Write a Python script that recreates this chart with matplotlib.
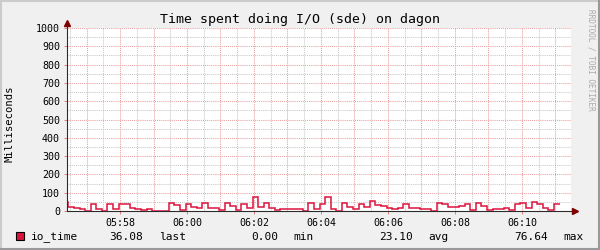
import numpy as np
import matplotlib.pyplot as plt
from matplotlib.patches import Rectangle

plt.rcParams['font.family'] = ['DejaVu Sans Mono']

# io_time in ms, one value per 10 s step (first one is a partial step)
io_time = [51, 22, 16, 9, 0, 38, 9, 0, 38, 11,
           38, 38, 15, 9, 4, 11, 0, 0, 0, 44,
           33, 5, 38, 22, 16, 44, 16, 16, 5, 44,
           27, 5, 38, 16, 76.64, 22, 44, 16, 5, 11,
           11, 11, 11, 0, 44, 11, 38, 75, 11, 0,
           44, 22, 11, 38, 22, 55, 33, 27, 16, 11,
           16, 38, 16, 16, 11, 11, 0, 44, 38, 22,
           22, 27, 38, 5, 44, 27, 5, 11, 11, 16,
           5, 38, 44, 16, 49, 38, 16, 5, 36.08]
step_seconds = 10
first_step = 27.5          # seconds after 05:56:00
view_start, view_end = 25, 928

tick_secs = [120, 240, 360, 480, 600, 720, 840]
tick_labels = ['05:58', '06:00', '06:02', '06:04', '06:06', '06:08', '06:10']
y_ticks = list(range(0, 1001, 100))

stats_values = ['36.08', '0.00', '23.10', '76.64']
stats_names = ['last', 'min', 'avg', 'max']

line_color = '#DC143C'

W, H = 600, 250
fig = plt.figure(figsize=(6, 2.5), dpi=100, facecolor='#F0F0F0')

# plot area in pixels
px0, px1, py0, py1 = 67, 571, 28, 211
ax = fig.add_axes([px0 / W, (H - py1) / H, (px1 - px0) / W, (py1 - py0) / H])
ax.set_facecolor('white')
ax.set_xlim(view_start, view_end)
ax.set_ylim(0, 1000)
for s in ax.spines.values():
    s.set_visible(False)

# grid: minor gray, major pink
dots = (0, (1, 1))
for t in np.arange(30, view_end, 60):
    ax.axvline(t, color='#C8C8C8', lw=0.75, ls=dots, zorder=1)
for v in np.arange(50, 1000, 100):
    ax.axhline(v, color='#C8C8C8', lw=0.75, ls=dots, zorder=1)
for t in np.arange(60, view_end, 60):
    ax.axvline(t, color='#EBA0A0', lw=0.75, ls=dots, zorder=2)
for v in y_ticks[1:]:
    ax.axhline(v, color='#EBA0A0', lw=0.75, ls=dots, zorder=2)

edges = [view_start] + [first_step + step_seconds * k for k in range(len(io_time))]
ax.stairs(io_time, edges, baseline=None, color=line_color, lw=1.1, zorder=3)

ax.set_xticks(tick_secs)
ax.set_xticklabels(tick_labels)
ax.set_yticks(y_ticks)
ax.set_yticklabels([str(v) for v in y_ticks])
ax.tick_params(axis='both', labelsize=7.2, length=2, width=0.7,
               color='#E08080', pad=3)

# axes with arrows
ext_y = 1 + 5 / (py1 - py0)
ext_x = 1 + 4 / (px1 - px0)
ax.plot([0, 0], [0, ext_y], transform=ax.transAxes, clip_on=False,
        color='#2C2C2C', lw=0.8, zorder=4)
ax.plot([0, ext_x], [0, 0], transform=ax.transAxes, clip_on=False,
        color='#2C2C2C', lw=0.8, zorder=4)
ax.plot([0], [ext_y], marker='^', ms=4, color='#7F0000', transform=ax.transAxes,
        clip_on=False, zorder=5)
ax.plot([ext_x], [0], marker='>', ms=4, color='#7F0000', transform=ax.transAxes,
        clip_on=False, zorder=5)

fig.text(0.5, (H - 19) / H, 'Time spent doing I/O (sde) on dagon',
         ha='center', va='center', fontsize=9.5)
fig.text(10 / W, (H - 124) / H, 'Milliseconds', rotation=90,
         ha='center', va='center', fontsize=7.6)
fig.text(591 / W, (H - 60) / H, 'RRDTOOL / TOBI OETIKER', rotation=270,
         ha='center', va='center', fontsize=5.6, color='#ABABAB')

# legend line
ly = (H - 236.5) / H
fig.patches.append(Rectangle((15.5 / W, (H - 240) / H), 8 / W, 8 / H,
                             transform=fig.transFigure, facecolor=line_color,
                             edgecolor='black', lw=0.8))
fig.text(30.5 / W, ly, 'io_time', va='center', fontsize=8)
val_x = [109, 251, 379, 514]
name_x = [159, 293, 428, 563]
for v, n, vx, nx in zip(stats_values, stats_names, val_x, name_x):
    fig.text(vx / W, ly, v, va='center', fontsize=8)
    fig.text(nx / W, ly, n, va='center', fontsize=8)

# 3d-ish frame
fig.add_artist(plt.Line2D([0, 1], [1 - 1 / H, 1 - 1 / H], color='#CBCBCB', lw=1.5))
fig.add_artist(plt.Line2D([1 / W, 1 / W], [0, 1], color='#CBCBCB', lw=1.5))
fig.add_artist(plt.Line2D([0, 1], [1 / H, 1 / H], color='#999999', lw=1.5))
fig.add_artist(plt.Line2D([1 - 1 / W, 1 - 1 / W], [0, 1], color='#999999', lw=1.5))

fig.savefig('out.png', dpi=100, facecolor=fig.get_facecolor())
